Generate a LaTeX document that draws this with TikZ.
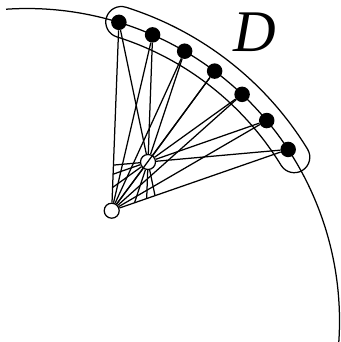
\documentclass[tikz,border=0pt]{standalone}
\usepackage{fontspec}
\setmainfont{Liberation Serif}
\usetikzlibrary{calc}
\begin{document}
\begin{tikzpicture}[x=1pt,y=-1pt,
  ln/.style={line width=1.25pt},
  bdot/.style={circle,fill=black,inner sep=0pt,minimum size=15.5pt},
  wdot/.style={circle,draw=black,fill=white,line width=1.25pt,inner sep=0pt,minimum size=15pt}]
\useasboundingbox (0,0) rectangle (340,342);
\coordinate (C) at (27,321);
% big circle
\draw[ln] ($(C)+(-93.85:312.5)$) arc[start angle=-93.85,end angle=5,radius=312.5];
% region D outline
\draw[ln] ($(C)+(-72.5:329)$) arc[start angle=-72.5,end angle=-31.5,radius=329]
  arc[start angle=-31.5,end angle=148.5,radius=15.5]
  arc[start angle=-31.5,end angle=-72.5,radius=298]
  arc[start angle=107.5,end angle=287.5,radius=15.5] -- cycle;
% vertices of D
\foreach \i/\a in {1/-72.9,2/-66.3,3/-59.7,4/-53.1,5/-46.5,6/-39.9,7/-33.3}
  \node[bdot] (d\i) at ($(C)+(\a:312.5)$) {};
% white vertices
\node[wdot] (A) at (148,162) {};
\node[wdot] (B) at (111.7,210.7) {};
% edges
\foreach \i in {1,...,7} {
  \draw[ln] (B) -- (d\i);
  \draw[ln] (A) -- (d\i);
}
% extensions through A
\coordinate (e1) at (intersection of d1--A and B--d7);
\coordinate (e2) at (intersection of d2--A and B--d7);
\coordinate (e3) at (intersection of d3--A and B--d7);
\coordinate (e5) at (intersection of d5--A and B--d1);
\coordinate (e6) at (intersection of d6--A and B--d1);
\coordinate (e7) at (intersection of d7--A and B--d1);
\foreach \i in {1,2,3,5,6,7} \draw[ln] (A) -- (e\i);
\draw[ln] (A) -- (B);
% label
\node[font=\fontsize{59}{62}\selectfont\itshape,inner sep=0pt] (lab) at (255,32) {D};
\end{tikzpicture}
\end{document}
